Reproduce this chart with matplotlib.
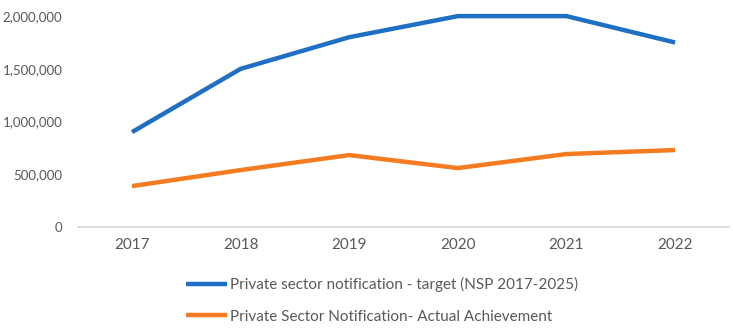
import matplotlib
matplotlib.use("Agg")
import matplotlib.pyplot as plt
from matplotlib.ticker import FuncFormatter

years = ["2017", "2018", "2019", "2020", "2021", "2022"]
target = [900000, 1500000, 1800000, 2000000, 2000000, 1750000]
actual = [388000, 540000, 682000, 559000, 692000, 730000]

plt.rcParams["font.family"] = ["Lato", "DejaVu Sans"]
text_color = "#595959"

fig = plt.figure(figsize=(7.33, 3.29), dpi=100)
ax = fig.add_axes([0.106, 0.31, 0.889, 0.641])

x = list(range(len(years)))
ax.plot(x, target, color="#1f6fc5", linewidth=3.2, solid_capstyle="butt",
        label="Private sector notification - target (NSP 2017-2025)", clip_on=False)
ax.plot(x, actual, color="#f47b20", linewidth=3.2, solid_capstyle="butt",
        label="Private Sector Notification- Actual Achievement", clip_on=False)

ax.set_xlim(-0.5, len(years) - 0.5)
ax.set_ylim(0, 2000000)
ax.set_yticks([0, 500000, 1000000, 1500000, 2000000])
ax.yaxis.set_major_formatter(FuncFormatter(lambda v, p: f"{int(v):,}"))
ax.set_xticks(x)
ax.set_xticklabels(years)

for s in ["top", "right", "left"]:
    ax.spines[s].set_visible(False)
ax.spines["bottom"].set_color("#d9d9d9")
ax.spines["bottom"].set_linewidth(1.2)
ax.tick_params(axis="x", length=0, labelsize=11, colors=text_color, pad=8)
ax.tick_params(axis="y", length=0, labelsize=9.5, colors=text_color, pad=11)

leg = fig.legend(loc="upper left", bbox_to_anchor=(0.235, 0.2), ncol=1, frameon=False,
                 fontsize=11, handlelength=2.7, handletextpad=0.15, labelspacing=1.15)
for t in leg.get_texts():
    t.set_color(text_color)

fig.savefig("out.png", dpi=100)
